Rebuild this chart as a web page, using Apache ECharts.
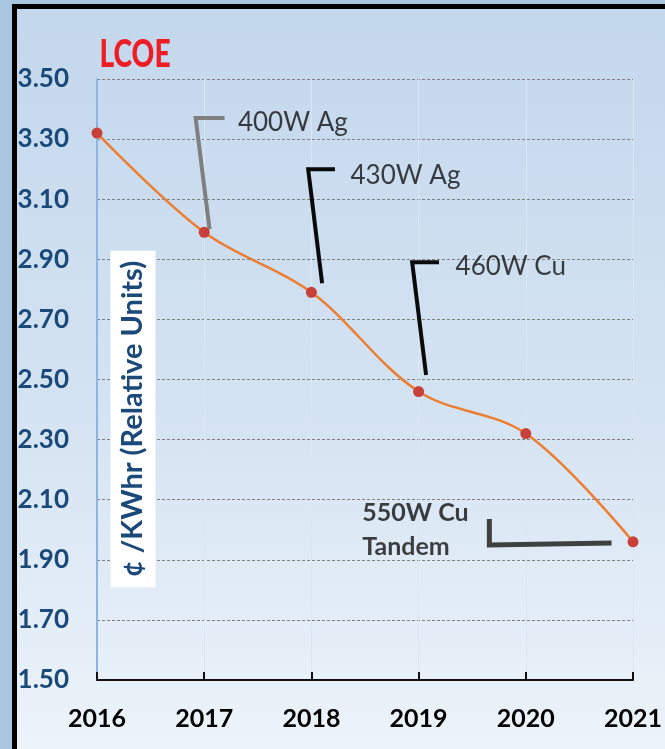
<!DOCTYPE html>
<html>
<head>
<meta charset="utf-8">
<title>LCOE</title>
<script src="https://cdn.jsdelivr.net/npm/echarts@6/dist/echarts.min.js"></script>
<style>
  html, body { margin: 0; padding: 0; background: #a9c6e1; }
  #chart { width: 665px; height: 749px; }
</style>
</head>
<body>
<div id="chart"></div>
<script>
// Levelized cost of energy by year (relative units)
const years = [2016, 2017, 2018, 2019, 2020, 2021];
const lcoe = [3.32, 2.99, 2.79, 2.46, 2.32, 1.96];

// Value-axis range and tick labels
const yMin = 1.5, yMax = 3.5, yStep = 0.2;
const yTickLabels = ['1.50', '1.70', '1.90', '2.10', '2.30', '2.50', '2.70', '2.90', '3.10', '3.30', '3.50'];

// Module milestones: callout leader lines (year, value) and their labels
const callout400 = [[2017.05, 3.00], [2016.92, 3.37], [2017.19, 3.37]];
const callout430 = [[2018.10, 2.82], [2017.97, 3.20], [2018.22, 3.20]];
const callout460 = [[2019.07, 2.515], [2018.94, 2.89], [2019.19, 2.89]];
const callout550 = [[2019.66, 2.036], [2019.66, 1.949], [2020.80, 1.956]];
const milestoneLabels = [
  [2017.31, 3.355, '400W Ag'],
  [2018.36, 3.178, '430W Ag'],
  [2019.34, 2.875, '460W Cu']
];
const tandemLabel = [[2018.47, 2.00, '550W Cu\nTandem']];

const chart = echarts.init(document.getElementById('chart'));

function leader(data, color, width) {
  return {
    type: 'line',
    data: data,
    symbol: 'none',
    smooth: false,
    silent: true,
    z: 3,
    lineStyle: { color: color, width: width, cap: 'butt', join: 'miter' }
  };
}

const option = {
  backgroundColor: '#a9c6e1',
  animation: false,
  grid: { left: 97, right: 27, top: 79, bottom: 69, containLabel: false },
  graphic: [
    {
      type: 'rect',
      z: -10,
      shape: { x: 14.5, y: 6.5, width: 700, height: 800 },
      style: {
        stroke: '#000',
        lineWidth: 5,
        fill: {
          type: 'linear', x: 0, y: 0, x2: 0, y2: 1,
          colorStops: [
            { offset: 0, color: '#c3d7ec' },
            { offset: 0.5, color: '#d4e3f2' },
            { offset: 1, color: '#f1f6fb' }
          ]
        }
      }
    },
    {
      type: 'text',
      x: 135, y: 55,
      scaleX: 0.74,
      z: 10,
      style: {
        text: 'LCOE',
        fill: '#ee1c25',
        font: '900 38px Lato, sans-serif',
        align: 'center',
        verticalAlign: 'middle'
      }
    },
    {
      type: 'text',
      x: 133, y: 419,
      rotation: Math.PI / 2,
      z: 10,
      style: {
        text: '¢ /KWhr (Relative Units)',
        fill: '#1b4a7a',
        font: 'bold 29px Lato, sans-serif',
        align: 'center',
        verticalAlign: 'middle',
        backgroundColor: '#ffffff',
        padding: [8, 10]
      }
    }
  ],
  xAxis: {
    type: 'value',
    min: years[0],
    max: years[years.length - 1],
    interval: 1,
    axisLine: { show: true, onZero: false, lineStyle: { color: '#111', width: 2 } },
    axisTick: { show: true, inside: true, length: 8, lineStyle: { color: '#111', width: 2 } },
    axisLabel: {
      margin: 26,
      color: '#000',
      fontFamily: 'Lato, sans-serif',
      fontWeight: 'bold',
      fontSize: 25,
      formatter: v => String(v)
    },
    splitLine: { show: true, lineStyle: { color: '#dbe6f3', width: 1 } }
  },
  yAxis: {
    type: 'value',
    min: yMin,
    max: yMax,
    interval: yStep,
    axisLine: { show: true, lineStyle: { color: '#8db4e2', width: 2 } },
    axisTick: { show: false },
    axisLabel: {
      margin: 28,
      color: '#1b4a7a',
      fontFamily: 'Lato, sans-serif',
      fontWeight: 'bold',
      fontSize: 26,
      formatter: v => yTickLabels[Math.round((v - yMin) / yStep)]
    },
    splitLine: { show: true, lineStyle: { color: '#808080', width: 1, type: [3, 2] } }
  },
  series: [
    {
      type: 'line',
      data: years.map((y, i) => [y, lcoe[i]]),
      smooth: 0.35,
      symbol: 'circle',
      symbolSize: 11,
      z: 5,
      lineStyle: { color: '#ed7d31', width: 2.5 },
      itemStyle: { color: '#c8403a', borderWidth: 0 }
    },
    leader(callout400, '#7f7f7f', 4),
    leader(callout430, '#0a0a0a', 4),
    leader(callout460, '#0a0a0a', 4),
    leader(callout550, '#404040', 5),
    {
      type: 'scatter',
      data: milestoneLabels,
      symbolSize: 1,
      itemStyle: { color: 'rgba(0,0,0,0)' },
      silent: true,
      z: 6,
      label: {
        show: true,
        position: 'right',
        distance: 0,
        color: '#111',
        fontFamily: 'Lato, sans-serif',
        fontSize: 26,
        formatter: p => p.data[2]
      }
    },
    {
      type: 'scatter',
      data: tandemLabel,
      symbolSize: 1,
      itemStyle: { color: 'rgba(0,0,0,0)' },
      silent: true,
      z: 6,
      label: {
        show: true,
        position: 'right',
        distance: 0,
        align: 'left',
        color: '#111',
        fontFamily: 'Lato, sans-serif',
        fontWeight: 'bold',
        fontSize: 25,
        lineHeight: 34,
        formatter: p => p.data[2]
      }
    }
  ]
};

chart.setOption(option);
</script>
</body>
</html>
